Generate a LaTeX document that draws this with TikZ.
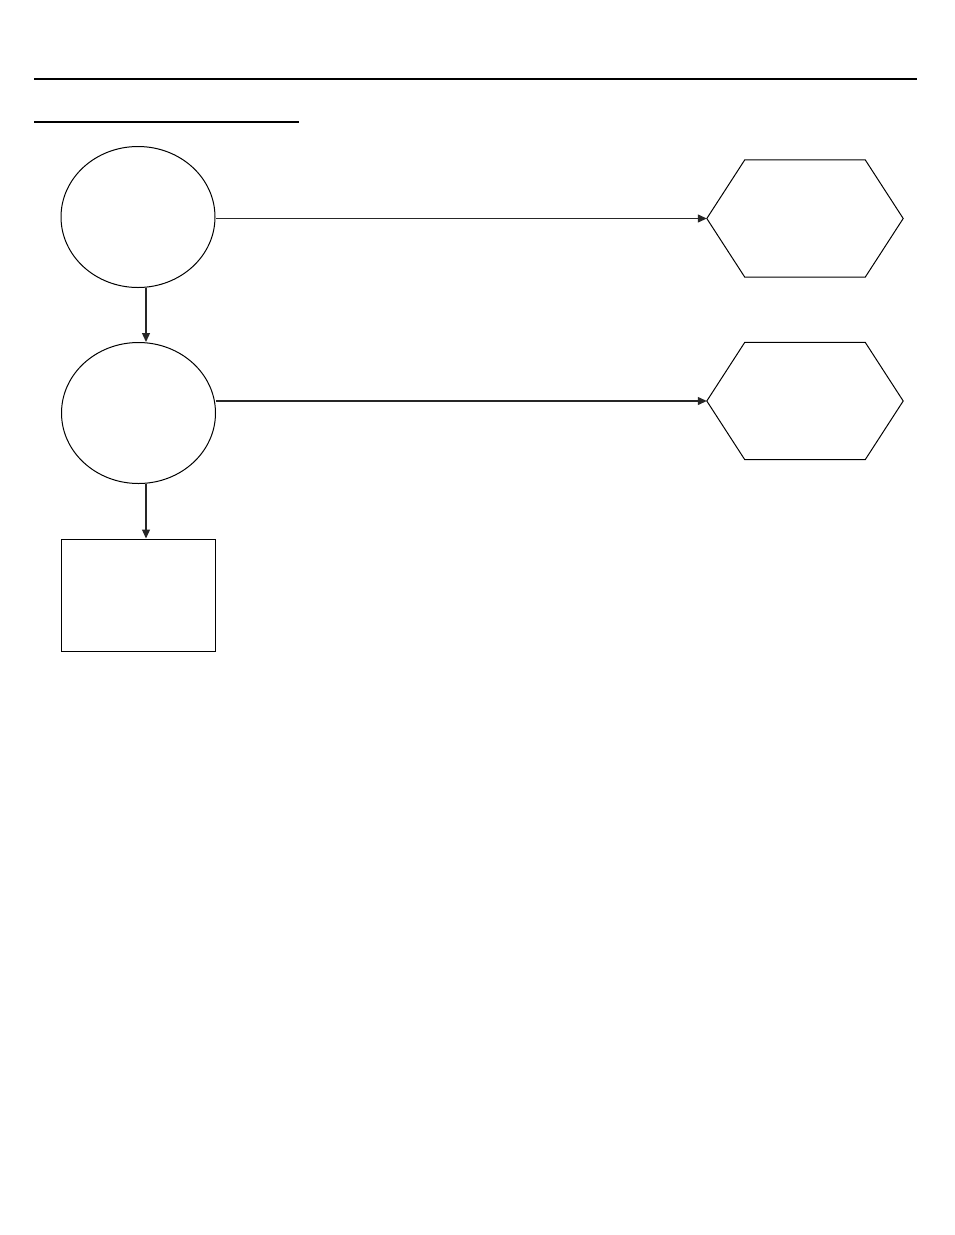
\documentclass[tikz,border=0pt]{standalone}
\usetikzlibrary{shapes.geometric,arrows.meta,calc}
\begin{document}
\begin{tikzpicture}[x=1pt,y=-1pt,
  shp/.style={draw=black,line width=1pt,inner sep=0pt},
  oval/.style={shp,ellipse,minimum width=154pt,minimum height=141pt},
  hexframe/.style={inner sep=0pt,minimum width=196pt,minimum height=117pt},
  arr/.style={draw=black!85,line width=1.3pt,-{Triangle[length=9pt,width=8pt]}},
  rule/.style={line width=2.4pt,line cap=butt}]
\useasboundingbox (0,0) rectangle (954,1235);
% rules
\coordinate (r1a) at (34,79);
\coordinate (r1b) at (917,79);
\coordinate (r2a) at (34,122);
\coordinate (r2b) at (299,122);
\draw[rule] (r1a) -- (r1b);
\draw[rule] (r2a) -- (r2b);
% nodes
\node[oval] (e1) at (138,217) {};
\node[oval] (e2) at (138.5,413) {};
\node[shp,rectangle,minimum width=154pt,minimum height=112pt] (box) at (138.5,595) {};
\node[hexframe] (h1) at (805,218.5) {};
\node[hexframe] (h2) at (805,401) {};
\foreach \h in {h1,h2}{
  \draw[line width=1pt,line join=miter]
    (\h.west) -- ($(\h.north west)+(38,0)$) -- ($(\h.north east)+(-38,0)$) --
    (\h.east) -- ($(\h.south east)+(-38,0)$) -- ($(\h.south west)+(38,0)$) -- cycle;
}
% connectors
\coordinate (vx) at (146,0);
\draw[arr] (h1.west -| e1.east) -- (h1.west);
\draw[arr] (h2.west -| e2.east) -- (h2.west);
\draw[arr] (e1.south -| vx) -- (e2.north -| vx);
\draw[arr] (e2.south -| vx) -- (box.north -| vx);
\end{tikzpicture}
\end{document}
